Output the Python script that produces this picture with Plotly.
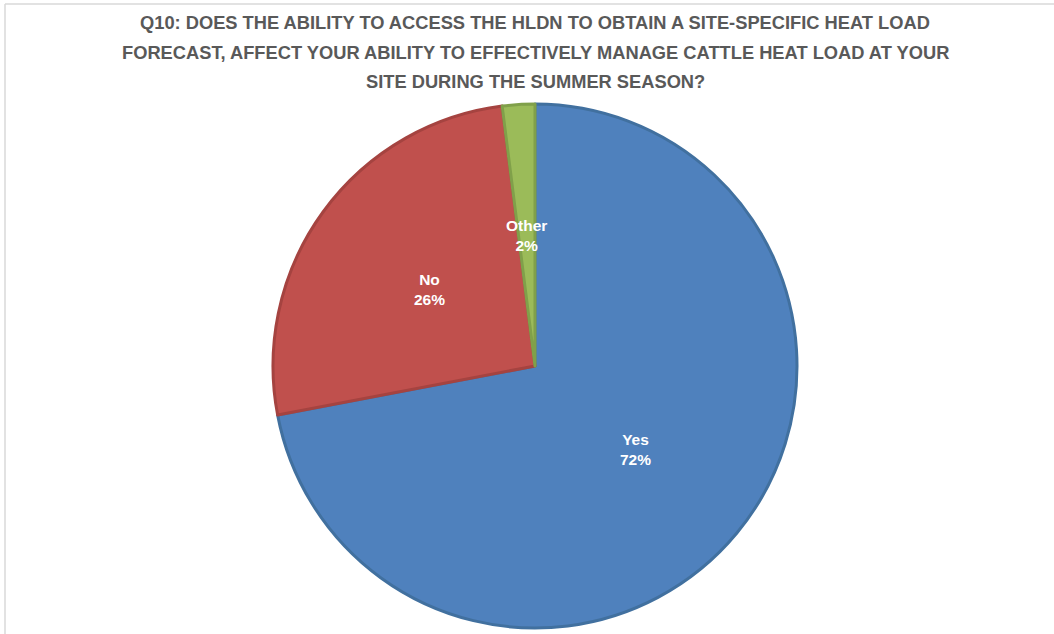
import math
import plotly.graph_objects as go

W, H = 1054, 634

categories = ["Yes", "No", "Other"]
shares = [72, 26, 2]
fill_colors = ["#4F81BD", "#C0504D", "#9BBB59"]
edge_colors = ["#41709F", "#A54340", "#80A04A"]

title_lines = [
    "Q10: DOES THE ABILITY TO ACCESS THE HLDN TO OBTAIN A SITE-SPECIFIC HEAT LOAD",
    "FORECAST, AFFECT YOUR ABILITY TO EFFECTIVELY MANAGE CATTLE HEAT LOAD AT YOUR",
    "SITE DURING THE SUMMER SEASON?",
]

# pie geometry in pixels
cx_px, cy_px, r_px = 535, 366, 262
dom_x = [(cx_px - r_px) / W, (cx_px + r_px) / W]
dom_y = [1 - (cy_px + r_px) / H, 1 - (cy_px - r_px) / H]

fig = go.Figure(
    go.Pie(
        labels=categories,
        values=shares,
        sort=False,
        direction="clockwise",
        rotation=0,
        marker=dict(colors=fill_colors, line=dict(color=edge_colors, width=3)),
        textinfo="none",
        hoverinfo="label+percent",
        showlegend=False,
        domain=dict(x=dom_x, y=dom_y),
    )
)

# data labels at half radius along each slice bisector
total = sum(shares)
label_font = dict(family="Liberation Sans, Arial, sans-serif", size=15.5, color="white")
annotations = []
start = 0.0
for name, v in zip(categories, shares):
    frac = v / total
    mid = (start + frac / 2) * 2 * math.pi
    start += frac
    dx = 0.5 * r_px * math.sin(mid)
    dy = 0.5 * r_px * math.cos(mid)
    annotations.append(dict(
        x=(cx_px + dx) / W, y=1 - (cy_px - dy) / H,
        xref="paper", yref="paper", showarrow=False,
        xanchor="center", yanchor="middle",
        text=f"<b>{name}<br>{round(frac * 100)}%</b>",
        font=label_font, align="center",
    ))

# title, one annotation per line for Excel-like line spacing
title_font = dict(family="Liberation Sans, Arial, sans-serif", size=18.3, color="#595959")
for i, line in enumerate(title_lines):
    annotations.append(dict(
        x=535 / W, y=1 - (23 + 29.5 * i) / H, xref="paper", yref="paper",
        showarrow=False, text=f"<b>{line}</b>", font=title_font,
        xanchor="center", yanchor="middle",
    ))

fig.update_layout(
    width=W, height=H,
    margin=dict(l=0, r=0, t=0, b=0),
    paper_bgcolor="white",
    plot_bgcolor="white",
    annotations=annotations,
    shapes=[
        dict(type="line", xref="paper", yref="paper",
             x0=5 / W, x1=1, y0=1 - 4 / H, y1=1 - 4 / H,
             line=dict(color="#D9D9D9", width=1.5)),
        dict(type="line", xref="paper", yref="paper",
             x0=5 / W, x1=5 / W, y0=0, y1=1 - 4 / H,
             line=dict(color="#D9D9D9", width=1.5)),
    ],
)

fig.write_html("out.html")
